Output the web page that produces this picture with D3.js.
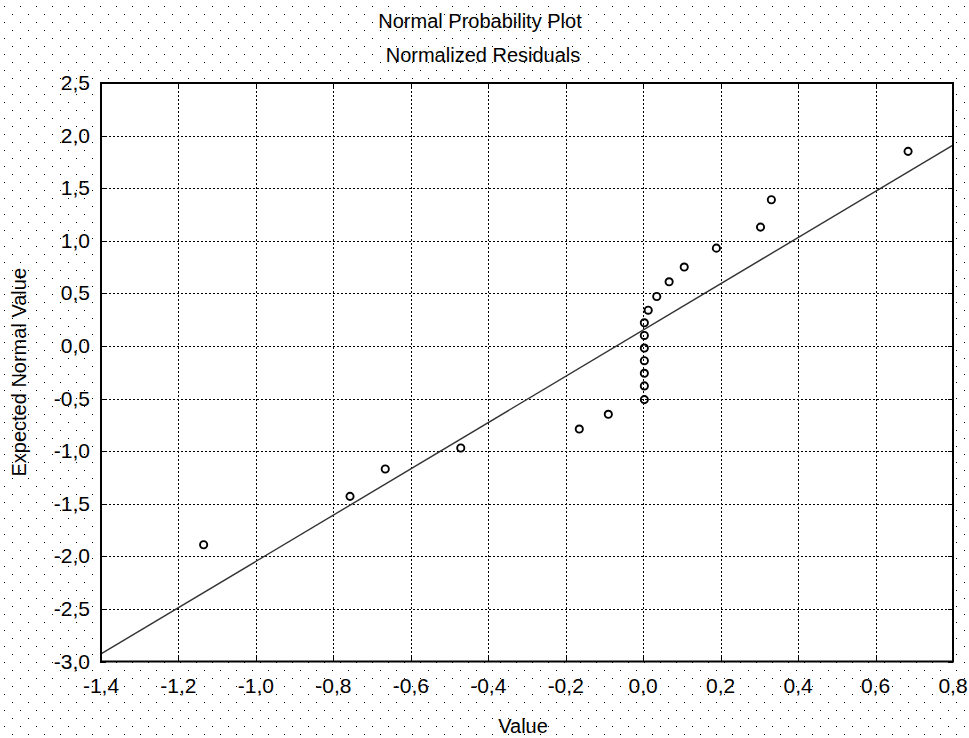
<!DOCTYPE html>
<meta charset="utf-8">
<style>
    body { margin: 0; background: #fff; }
    text { font-family: "Liberation Sans", Arial, sans-serif; font-size: 20px; fill: #000; }
    .tick-label { font-size: 21px; }
    .grid line { stroke: #000; stroke-width: 1px; stroke-dasharray: 2,2; shape-rendering: crispEdges; }
    .pts circle { fill: none; stroke: #000; stroke-width: 1.9px; }
</style>
<svg width="969" height="738"></svg>
<script src="https://d3js.org/d3.v7.min.js"></script>
<script>

    // residual values (x) and expected normal values (y)
    var residuals = [-1.135, -0.757, -0.666, -0.471, -0.165, -0.090,
        0.003, 0.003, 0.003, 0.003, 0.003, 0.003, 0.003,
        0.013, 0.035, 0.067, 0.106, 0.189, 0.303, 0.331, 0.684];
    var expected = [-1.89, -1.43, -1.17, -0.97, -0.79, -0.65,
        -0.51, -0.38, -0.26, -0.14, -0.02, 0.10, 0.22,
        0.34, 0.47, 0.61, 0.75, 0.93, 1.13, 1.39, 1.85];

    var xTicks = [-1.4, -1.2, -1.0, -0.8, -0.6, -0.4, -0.2, 0.0, 0.2, 0.4, 0.6, 0.8];
    var yTicks = [-3.0, -2.5, -2.0, -1.5, -1.0, -0.5, 0.0, 0.5, 1.0, 1.5, 2.0, 2.5];

    // fitted reference line
    var lineIntercept = 0.151,
        lineSlope = 2.199;

    var svg = d3.select("svg"),
        width = +svg.attr("width"),
        height = +svg.attr("height");

    var pLeft = 101, pRight = 953, pTop = 83, pBottom = 661.5;

    var x = d3.scaleLinear().domain([-1.4, 0.8]).range([pLeft, pRight]);
    var y = d3.scaleLinear().domain([-3.0, 2.5]).range([pBottom, pTop]);

    var fmt = function (d) { return d3.format(".1f")(d).replace("−", "-").replace(".", ","); };

    // dotted background
    var pat = svg.append("defs").append("pattern")
        .attr("id", "dots")
        .attr("patternUnits", "userSpaceOnUse")
        .attr("width", 16).attr("height", 16);
    pat.append("rect").attr("x", 4).attr("y", 6).attr("width", 1).attr("height", 1).attr("fill", "#000");
    pat.append("rect").attr("x", 12).attr("y", 14).attr("width", 1).attr("height", 1).attr("fill", "#000");

    svg.append("rect").attr("width", width).attr("height", height).attr("fill", "#fff");
    svg.append("rect").attr("width", width).attr("height", height).attr("fill", "url(#dots)");

    // plot area
    svg.append("rect")
        .attr("x", pLeft).attr("y", pTop)
        .attr("width", pRight - pLeft).attr("height", pBottom - pTop)
        .attr("fill", "#fff");

    var grid = svg.append("g").attr("class", "grid");
    grid.selectAll(".gx")
        .data(xTicks.slice(1, -1))
        .enter().append("line")
        .attr("x1", function (d) { return Math.round(x(d)) + 0.5; })
        .attr("x2", function (d) { return Math.round(x(d)) + 0.5; })
        .attr("y1", pTop).attr("y2", pBottom);
    grid.selectAll(".gy")
        .data(yTicks.slice(1, -1))
        .enter().append("line")
        .attr("y1", function (d) { return Math.round(y(d)) + 0.5; })
        .attr("y2", function (d) { return Math.round(y(d)) + 0.5; })
        .attr("x1", pLeft).attr("x2", pRight);

    // inward tick marks on all four sides
    var tk = svg.append("g").attr("stroke", "#000").attr("stroke-width", 1).attr("shape-rendering", "crispEdges");
    xTicks.forEach(function (d) {
        var px = Math.round(x(d)) + 0.5;
        tk.append("line").attr("x1", px).attr("x2", px).attr("y1", pBottom).attr("y2", pBottom - 5);
        tk.append("line").attr("x1", px).attr("x2", px).attr("y1", pTop).attr("y2", pTop + 5);
    });
    yTicks.forEach(function (d) {
        var py = Math.round(y(d)) + 0.5;
        tk.append("line").attr("y1", py).attr("y2", py).attr("x1", pLeft).attr("x2", pLeft + 5);
        tk.append("line").attr("y1", py).attr("y2", py).attr("x1", pRight).attr("x2", pRight - 5);
    });

    // reference line
    var line = d3.line()
        .x(function (d) { return x(d); })
        .y(function (d) { return y(lineIntercept + lineSlope * d); });
    svg.append("path")
        .datum(x.domain())
        .attr("d", line)
        .attr("fill", "none")
        .attr("stroke", "#333")
        .attr("stroke-width", 1.4);

    // points
    svg.append("g").attr("class", "pts")
        .selectAll("circle")
        .data(residuals)
        .enter().append("circle")
        .attr("cx", function (d) { return x(d); })
        .attr("cy", function (d, i) { return y(expected[i]); })
        .attr("r", 3.6);

    // frame
    svg.append("rect")
        .attr("x", pLeft).attr("y", pTop)
        .attr("width", pRight - pLeft).attr("height", pBottom - pTop)
        .attr("fill", "none")
        .attr("stroke", "#000")
        .attr("stroke-width", 2);

    // tick labels
    svg.append("g").selectAll("text")
        .data(xTicks)
        .enter().append("text")
        .attr("class", "tick-label")
        .attr("x", function (d) { return x(d); })
        .attr("y", 693)
        .attr("text-anchor", "middle")
        .text(fmt);

    svg.append("g").selectAll("text")
        .data(yTicks)
        .enter().append("text")
        .attr("class", "tick-label")
        .attr("x", 90)
        .attr("y", function (d) { return y(d) + 7; })
        .attr("text-anchor", "end")
        .text(fmt);

    // titles
    svg.append("text").attr("x", 480).attr("y", 28).attr("text-anchor", "middle").text("Normal Probability Plot");
    svg.append("text").attr("x", 483).attr("y", 62).attr("text-anchor", "middle").text("Normalized Residuals");
    svg.append("text").attr("x", 523).attr("y", 733).attr("text-anchor", "middle").text("Value");
    svg.append("text")
        .attr("transform", "translate(26," + ((pTop + pBottom) / 2) + ") rotate(-90)")
        .attr("text-anchor", "middle")
        .text("Expected Normal Value");

</script>
